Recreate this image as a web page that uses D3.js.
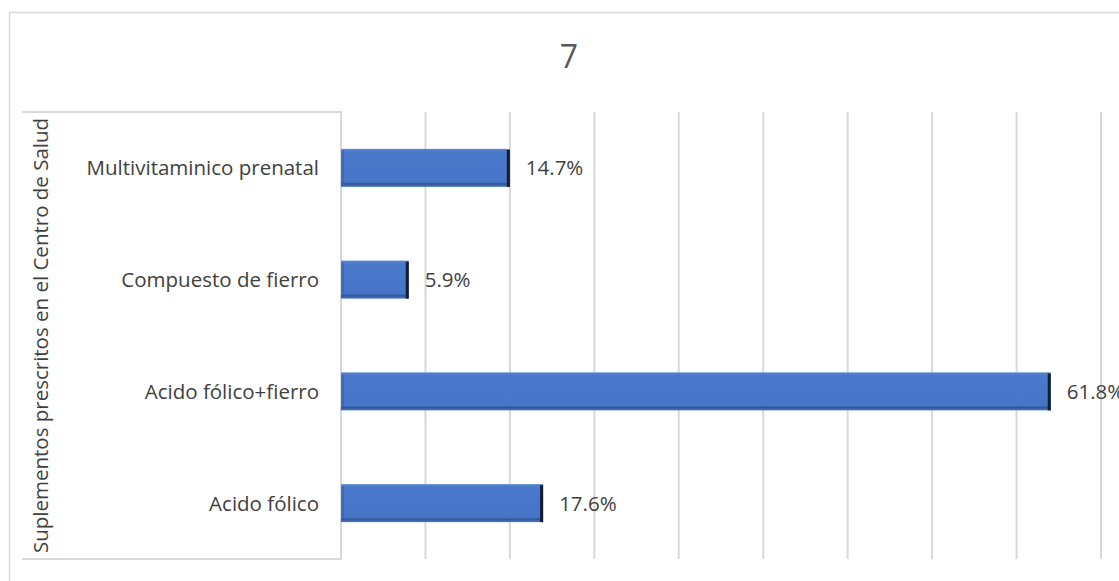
<!DOCTYPE html>
<html>
<head>
<meta charset="utf-8">
<script src="https://cdn.jsdelivr.net/npm/d3@7/dist/d3.min.js"></script>
<style>
  html, body { margin: 0; padding: 0; background: #fff; }
  svg { display: block; font-family: "Open Sans", sans-serif; font-variant-ligatures: none; }
</style>
</head>
<body>
<svg id="chart" width="1119" height="581"></svg>
<script>
// Supplements prescribed at the health centre (share of patients)
const categories = ["Acido fólico", "Acido fólico+fierro", "Compuesto de fierro", "Multivitaminico prenatal"];
const values = [17.6, 61.8, 5.9, 14.7];
const valueLabels = ["17.6%", "61.8%", "5.9%", "14.7%"];
const chartTitle = "7";
const axisTitle = "Suplementos prescritos en el Centro de Salud";
// Gridline step and axis maximum (in percent)
const gridStep = 100 * 2.5 / 34;
const axisMax = 9 * gridStep;

const svg = d3.select("#chart");
const plot = { left: 341, right: 1101, top: 112, bottom: 559 };

// Outer chart frame (runs past the right and bottom edges)
svg.append("rect")
  .attr("x", 9.5).attr("y", 12.5)
  .attr("width", 1130).attr("height", 600)
  .attr("fill", "none").attr("stroke", "#d9d9d9").attr("stroke-width", 1.5);

const x = d3.scaleLinear().domain([0, axisMax]).range([plot.left, plot.right]);
const y = d3.scaleBand()
  .domain(categories.slice().reverse())
  .range([plot.top, plot.bottom])
  .paddingInner(0.66).paddingOuter(0.33);

// Vertical gridlines
const gridTicks = d3.range(1, 10).map(i => i * gridStep);
svg.append("g")
  .selectAll("line").data(gridTicks).join("line")
  .attr("x1", d => x(d)).attr("x2", d => x(d))
  .attr("y1", plot.top).attr("y2", plot.bottom)
  .attr("stroke", "#d9d9d9").attr("stroke-width", 2);

// Category area outline (top, right, bottom)
svg.append("path")
  .attr("d", `M22,${plot.top} H${plot.left} V${plot.bottom} H22`)
  .attr("fill", "none").attr("stroke", "#d9d9d9").attr("stroke-width", 2);

// Bevelled bars
const defs = svg.append("defs");
const grad = defs.append("linearGradient").attr("id", "barV")
  .attr("x1", 0).attr("y1", 0).attr("x2", 0).attr("y2", 1);
grad.append("stop").attr("offset", "0%").attr("stop-color", "#5b86d2");
grad.append("stop").attr("offset", "8%").attr("stop-color", "#4a78cb");
grad.append("stop").attr("offset", "88%").attr("stop-color", "#4674c6");
grad.append("stop").attr("offset", "92%").attr("stop-color", "#30558f");
grad.append("stop").attr("offset", "100%").attr("stop-color", "#4a78cb");

const rows = categories.map((c, i) => ({ c, v: values[i], label: valueLabels[i] }));
const bars = svg.append("g").selectAll("g").data(rows).join("g");

bars.append("rect")
  .attr("x", x(0)).attr("y", d => y(d.c))
  .attr("width", d => x(d.v) - x(0)).attr("height", y.bandwidth())
  .attr("fill", "url(#barV)");
// left shading
bars.append("rect")
  .attr("x", x(0) + 1).attr("y", d => y(d.c) + 2)
  .attr("width", 2).attr("height", y.bandwidth() - 5)
  .attr("fill", "#3c64ad").attr("opacity", 0.7);
// dark right edge
bars.append("rect")
  .attr("x", d => x(d.v) - 3).attr("y", d => y(d.c) + 1)
  .attr("width", 3).attr("height", y.bandwidth() - 1)
  .attr("fill", "#0f1d36");

// Value labels
bars.append("text")
  .attr("x", d => x(d.v) + 16)
  .attr("y", d => y(d.c) + y.bandwidth() / 2)
  .attr("dy", "0.36em")
  .attr("font-size", 20.5).attr("fill", "#404040")
  .text(d => d.label);

// Category labels
svg.append("g").selectAll("text").data(categories).join("text")
  .attr("x", 319)
  .attr("y", d => y(d) + y.bandwidth() / 2)
  .attr("dy", "0.36em")
  .attr("text-anchor", "end")
  .attr("font-size", 20.5).attr("fill", "#404040")
  .text(d => d);

// Axis title
svg.append("text")
  .attr("transform", `translate(48,${(plot.top + plot.bottom) / 2}) rotate(-90)`)
  .attr("text-anchor", "middle")
  .attr("font-size", 20.5).attr("fill", "#404040")
  .text(axisTitle);

// Chart title
svg.append("text")
  .attr("x", 569).attr("y", 68)
  .attr("text-anchor", "middle")
  .attr("font-size", 32).attr("fill", "#595959")
  .text(chartTitle);
</script>
</body>
</html>
